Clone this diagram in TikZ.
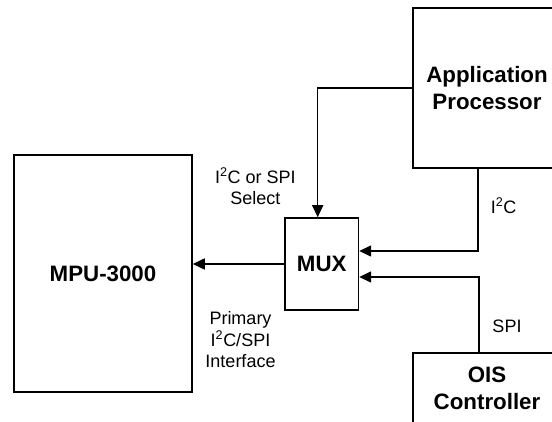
\documentclass[tikz,border=0pt]{standalone}
\usepackage{fontspec}
\setmainfont{Liberation Sans}
\usetikzlibrary{arrows.meta}

\begin{document}
\begin{tikzpicture}[x=1pt,y=-1pt]
        \tikzstyle{every node} = [rectangle]
        \tikzstyle{block} = [draw, line width=1.5pt, align=center, inner sep=0pt,
            font=\fontsize{22.3}{26.7}\selectfont\bfseries]
        \tikzstyle{lbl} = [align=center, inner sep=0pt, font=\fontsize{18}{21.5}\selectfont]
        \tikzstyle{wire} = [line width=1.5pt, -{Triangle[length=12pt,width=11pt]}]
        \useasboundingbox (0,0) rectangle (552,422);
        \clip (0,0) rectangle (552,422);
        % blocks (the two on the right run past the edge)
        \node[block, minimum width=178pt, minimum height=237pt] (mpu) at (103,273.5) {MPU-3000};
        \node[block, minimum width=73.5pt, minimum height=92pt] (mux) at (321.7,264) {MUX};
        \node[block, minimum width=148pt, minimum height=160pt] (ap) at (487,88) {Application\\Processor};
        \node[block, minimum width=148pt, minimum height=70pt] (ois) at (487,388) {OIS\\Controller};
        % labels
        \node[lbl] (sel) at (255.3,186.5) {I\textsuperscript{2}C or SPI\\Select};
        \node[lbl] (i2c) at (503.5,205.7) {I\textsuperscript{2}C};
        \node[lbl] (spi) at (507,326) {SPI};
        \node[lbl] (prim) at (240.5,339.7) {Primary\\I\textsuperscript{2}C/SPI\\Interface};
        % connectors
        \draw[wire] (mux.west) -- (mux.west -| mpu.east);
        \draw[wire] (ap.west) -| ([xshift=-4pt]mux.north);
        \draw[wire] ([xshift=-9pt]ap.south) |- ([yshift=13pt]mux.east);
        \draw[wire] ([xshift=-8pt]ois.north) |- ([yshift=-13pt]mux.east);
    \end{tikzpicture}
\end{document}
